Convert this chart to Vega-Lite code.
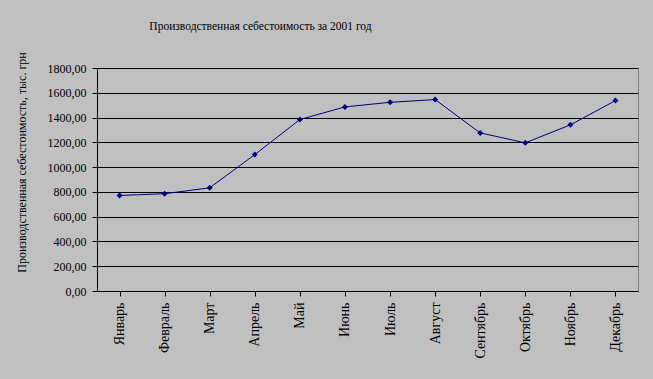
{
  "$schema": "https://vega.github.io/schema/vega-lite/v6.json",
  "autosize": {"type": "none"},
  "width": 541,
  "height": 223,
  "padding": {"left": 97, "top": 68, "right": 15, "bottom": 88},
  "background": "#c0c0c0",
  "title": {
    "text": "Производственная себестоимость за 2001 год",
    "font": "Liberation Serif",
    "fontSize": 11.5,
    "fontWeight": "normal",
    "color": "#000000",
    "anchor": "middle",
    "frame": "group",
    "dx": -107,
    "offset": 19
  },
  "data": {
    "values": [
      {"month": "Январь", "value": 771},
      {"month": "Февраль", "value": 785},
      {"month": "Март", "value": 833},
      {"month": "Апрель", "value": 1101},
      {"month": "Май", "value": 1384},
      {"month": "Июнь", "value": 1486},
      {"month": "Июль", "value": 1523},
      {"month": "Август", "value": 1545},
      {"month": "Сентябрь", "value": 1276},
      {"month": "Октябрь", "value": 1196},
      {"month": "Ноябрь", "value": 1341},
      {"month": "Декабрь", "value": 1537}
    ]
  },
  "encoding": {
    "x": {
      "field": "month",
      "type": "nominal",
      "sort": null,
      "scale": {"paddingInner": 0, "paddingOuter": 0},
      "axis": {
        "title": null,
        "bandPosition": 0,
        "labelAngle": -90,
        "labelAlign": "right",
        "labelBaseline": "middle",
        "labelPadding": 6,
        "labelFont": "Liberation Serif",
        "labelFontSize": 14,
        "labelColor": "#000000",
        "tickSize": 5,
        "tickColor": "#000000",
        "domainColor": "#000000",
        "grid": false
      }
    },
    "y": {
      "field": "value",
      "type": "quantitative",
      "scale": {"domain": [0, 1800], "nice": false, "zero": true},
      "axis": {
        "title": "Производственная себестоимость, тыс. грн",
        "titleFont": "Liberation Serif",
        "titleFontSize": 12,
        "titleFontWeight": "normal",
        "titleColor": "#000000",
        "titleAngle": -90,
        "titleAlign": "center",
        "titleBaseline": "middle",
        "titleX": -76,
        "titleY": 94,
        "values": [0, 200, 400, 600, 800, 1000, 1200, 1400, 1600, 1800],
        "labelExpr": "replace(format(datum.value, '.2f'), '.', ',')",
        "labelFont": "Liberation Serif",
        "labelFontSize": 12,
        "labelColor": "#000000",
        "labelPadding": 6,
        "tickSize": 5,
        "tickColor": "#000000",
        "domainColor": "#000000",
        "grid": true,
        "gridColor": "#000000",
        "gridOpacity": 1,
        "gridWidth": 1
      }
    }
  },
  "layer": [
    {"mark": {"type": "line", "color": "#000080", "strokeWidth": 1}},
    {"mark": {"type": "point", "shape": "diamond", "filled": true, "color": "#000080", "opacity": 1, "size": 36}}
  ],
  "config": {
    "view": {"stroke": "#808080", "strokeWidth": 1, "fill": "#c0c0c0"}
  }
}
